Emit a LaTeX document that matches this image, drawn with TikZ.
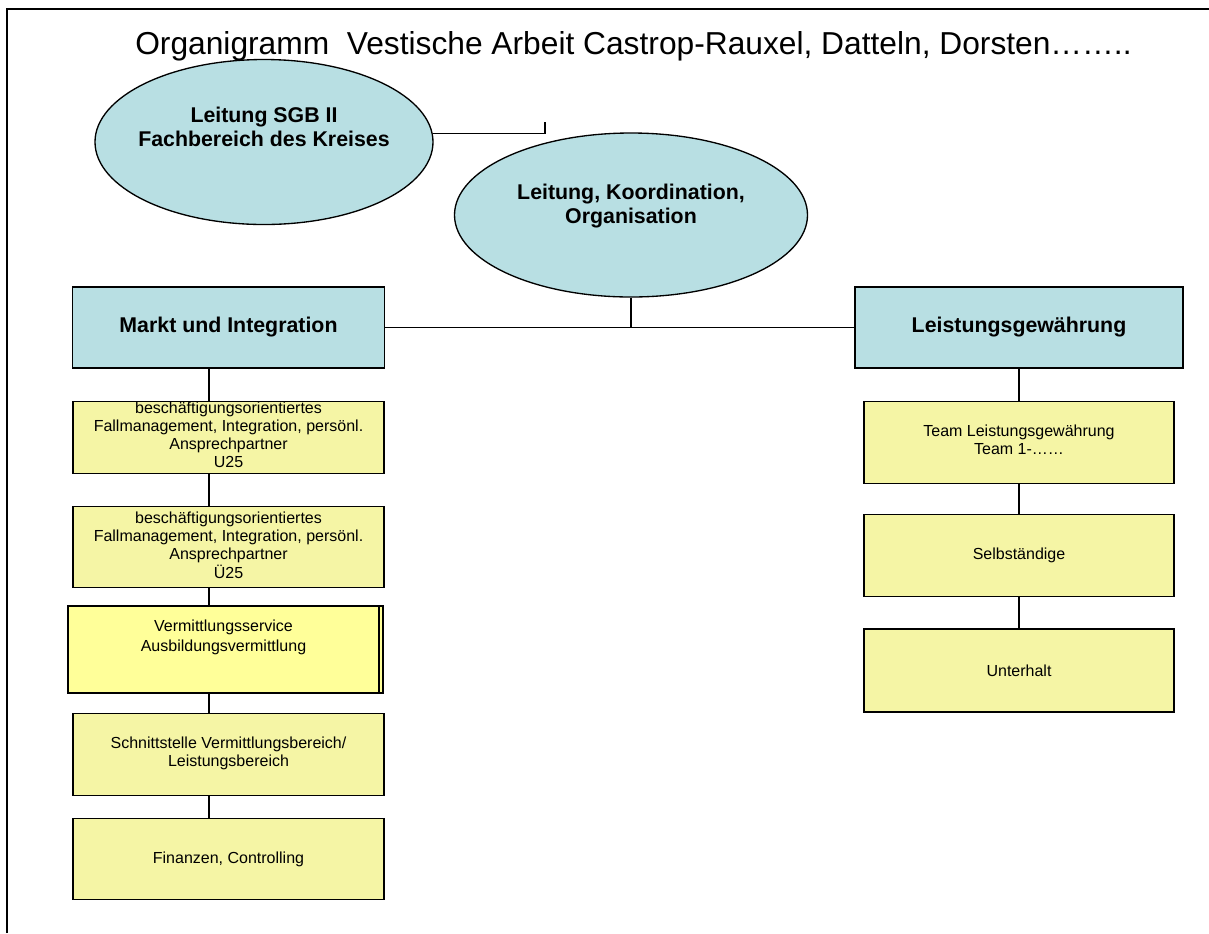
\documentclass[tikz,border=0pt]{standalone}
\usepackage{fontspec}
\setmainfont{Liberation Sans}
\usepackage{tikz}
\usetikzlibrary{positioning,shapes.geometric,shadows}

\definecolor{leitblau}{RGB}{184,223,227}
\definecolor{teamgelb}{RGB}{245,245,165}
\definecolor{servgelb}{RGB}{255,255,153}

\begin{document}
\begin{tikzpicture}[
    x=0.75pt, y=-0.75pt,
    line width=1pt,
    leitung/.style={
		ellipse,
		draw=black,
		fill=leitblau,
		inner sep=0pt,
		font=\bfseries\fontsize{16}{18}\selectfont
	},
    bereich/.style={
		rectangle,
		draw=black,
		fill=leitblau,
		minimum height=60.75pt,
		font=\bfseries\fontsize{16}{18}\selectfont
	},
    team/.style={
		rectangle,
		draw=black,
		fill=teamgelb,
		inner sep=0pt,
		minimum width=233.25pt,
		minimum height=60.75pt,
		font=\fontsize{12}{13.5}\selectfont
	}
  ]
  \useasboundingbox (0,0) rectangle (1209,933);

  % frame and title
  \coordinate (rahmenunten) at (7,933);
  \coordinate (rahmenecke) at (7,9);
  \coordinate (rahmenrechts) at (1209,9);
  \draw [line width=1.5pt] (rahmenunten) -- (rahmenecke) -- (rahmenrechts);

  \node [anchor=base, font=\fontsize{23.8}{26}\selectfont] (titel) at (633.5,54)
  {Organigramm\ \ Vestische Arbeit Castrop-Rauxel, Datteln, Dorsten……..};

  % We start by placing the blocks
  \node [leitung, minimum width=253.5pt, minimum height=123.75pt] (sgb) at (264,142)
 {%
 \makebox[0pt]{\begin{tabular}{c}
  Leitung SGB II\\
  Fachbereich des Kreises\\[18pt]
 \end{tabular}}
 };

  \node [leitung, minimum width=264.75pt, minimum height=123pt] (lko) at (631,215)
 {%
 \makebox[0pt]{\begin{tabular}{c}
  Leitung, Koordination,\\
  Organisation\\[12pt]
 \end{tabular}}
 };

  \node [bereich, minimum width=234pt] (markt) at (228.5,327.5) {Markt und Integration};
  \node [bereich, minimum width=246pt] (leistung) at (1019,327.5) {Leistungsgewährung};

  % left column
  \node [team, minimum height=53.25pt, below=24pt of markt] (ufuenf)
 {%
 \begin{tabular}{c}
  beschäftigungsorientiertes\\
  Fallmanagement, Integration, persönl.\\
  Ansprechpartner\\
  U25
 \end{tabular}
 };

  \node [team, below=24pt of ufuenf] (uefuenf)
 {%
 \begin{tabular}{c}
  beschäftigungsorientiertes\\
  Fallmanagement, Integration, persönl.\\
  Ansprechpartner\\
  Ü25
 \end{tabular}
 };

  \node [team, fill=servgelb, minimum height=65.25pt, below=12.75pt of uefuenf, xshift=-3.75pt,
         copy shadow={shadow xshift=3pt, shadow yshift=0pt}, font=\fontsize{12}{15}\selectfont] (service)
 {%
 \begin{tabular}{c}
  Vermittlungsservice\\
  Ausbildungsvermittlung\\[18pt]
 \end{tabular}
 };

  \node [team, minimum height=61.5pt, below=14.25pt of service, xshift=3.75pt] (schnitt)
 {%
 \begin{tabular}{c}
  Schnittstelle Vermittlungsbereich/\\
  Leistungsbereich
 \end{tabular}
 };

  \node [team, below=16.5pt of schnitt] (finanzen) {Finanzen, Controlling};

  % right column
  \node [team, minimum width=232.5pt, minimum height=61.5pt, below=24pt of leistung] (lgteam)
 {%
 \begin{tabular}{c}
  Team Leistungsgewährung\\
  Team 1-……
 \end{tabular}
 };

  \node [team, minimum width=232.5pt, minimum height=61.5pt, below=22.5pt of lgteam] (selbst) {Selbständige};
  \node [team, minimum width=232.5pt, minimum height=62.25pt, below=23.25pt of selbst] (unterhalt) {Unterhalt};

  % connections
  \coordinate (haken) at (545,122);
  \coordinate (achse) at (209,0);
  \draw (sgb.3) -| (haken);
  \draw (lko.south) -- (lko.south |- markt.east);
  \draw (markt.east) -- (leistung.west);
  \draw (markt.south -| achse) -- (ufuenf.north -| achse);
  \draw (ufuenf.south -| achse) -- (uefuenf.north -| achse);
  \draw (uefuenf.south -| achse) -- (service.north -| achse);
  \draw (service.south -| achse) -- (schnitt.north -| achse);
  \draw (schnitt.south -| achse) -- (finanzen.north -| achse);
  \draw (leistung) -- (lgteam);
  \draw (lgteam) -- (selbst);
  \draw (selbst) -- (unterhalt);

\end{tikzpicture}
\end{document}
